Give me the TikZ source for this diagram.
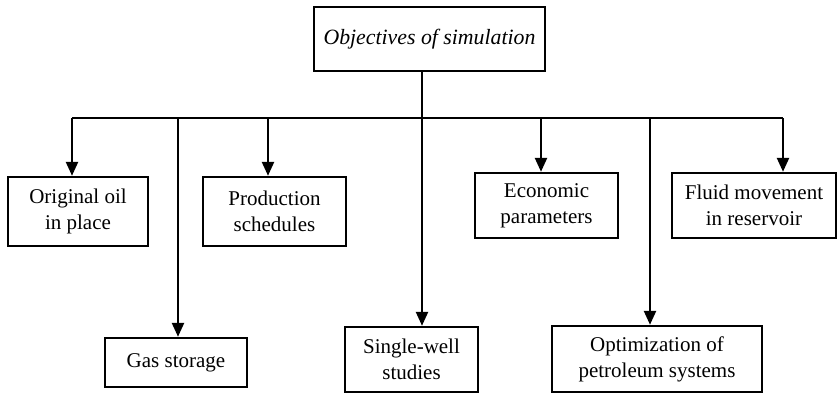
\documentclass[tikz,border=0pt]{standalone}
\usepackage{fontspec}
\setmainfont{Liberation Serif}
\usetikzlibrary{arrows.meta}

\begin{document}
\begin{tikzpicture}[x=0.5pt,y=-0.5pt,line width=1.2pt,
  box/.style={draw,inner sep=0pt,align=center,font=\fontsize{10.5}{13}\selectfont},
  arr/.style={-{Triangle[width=6pt,length=7pt]}}]
\useasboundingbox (0,0) rectangle (837,393);
\node [box,minimum width=115.5pt,minimum height=32pt,font=\fontsize{10.9}{13}\selectfont\itshape] (obj) at (429.5,39) {Objectives of simulation};
\node [box,minimum width=70pt,minimum height=34.5pt] (oil) at (78,211.5) {Original oil\\in place};
\node [box,minimum width=71.5pt,minimum height=34.5pt] (prod) at (274.5,211.5) {Production\\schedules};
\node [box,minimum width=71.5pt,minimum height=32.5pt] (econ) at (546.5,205.5) {Economic\\parameters};
\node [box,minimum width=82pt,minimum height=32.5pt] (fluid) at (754,205.5) {Fluid movement\\in reservoir};
\node [box,minimum width=71pt,minimum height=24.5pt] (gas) at (176,362.5) {Gas storage};
\node [box,minimum width=66.5pt,minimum height=32.5pt] (well) at (411.5,359.5) {Single-well\\studies};
\node [box,minimum width=105pt,minimum height=33pt] (optim) at (657,359) {Optimization of\\petroleum systems};
\coordinate (b1) at (72,118);
\coordinate (b2) at (178,118);
\coordinate (b3) at (268,118);
\coordinate (b4) at (422,118);
\coordinate (b5) at (541,118);
\coordinate (b6) at (650,118);
\coordinate (b7) at (783,118);
\draw (b1) -- (b7);
\draw [arr] (obj.south -| b4) -- (b4 |- well.north);
\draw [arr] (b1) -- (b1 |- oil.north);
\draw [arr] (b2) -- (b2 |- gas.north);
\draw [arr] (b3) -- (b3 |- prod.north);
\draw [arr] (b5) -- (b5 |- econ.north);
\draw [arr] (b6) -- (b6 |- optim.north);
\draw [arr] (b7) -- (b7 |- fluid.north);
\end{tikzpicture}
\end{document}
